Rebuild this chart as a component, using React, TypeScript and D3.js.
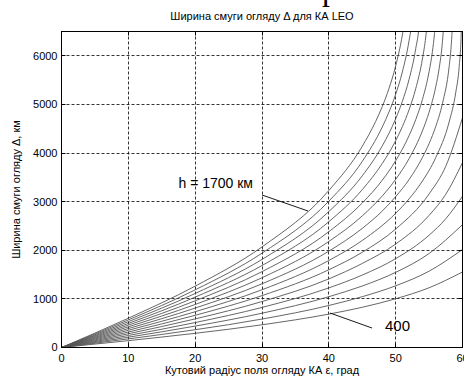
import { useMemo } from 'react'
import { scaleLinear, line, curveMonotoneX } from 'd3'

// Ширина смуги огляду для КА LEO, h = 400..1700 км з кроком 100 км.
// Точки [ε, Δ]; вище 6500 км крива обрізається рамкою.

const X_TICKS = [0, 10, 20, 30, 40, 50, 60]
const Y_TICKS = [0, 1000, 2000, 3000, 4000, 5000, 6000]

const H400: [number, number][] = [[0, 0], [10, 141], [20, 292], [30, 467], [40, 687], [45, 827], [50, 1003], [55, 1229], [60, 1553]]
const H500: [number, number][] = [[0, 0], [10, 177], [20, 366], [30, 585], [40, 864], [45, 1045], [50, 1269], [55, 1570], [60, 2016]]
const H600: [number, number][] = [[0, 0], [10, 212], [20, 440], [30, 705], [40, 1045], [45, 1265], [50, 1546], [55, 1933], [60, 2528]]
const H700: [number, number][] = [[0, 0], [10, 247], [20, 513], [30, 824], [40, 1226], [45, 1490], [50, 1827], [55, 2310], [57.5, 2649], [60, 3110]]
const H800: [number, number][] = [[0, 0], [10, 283], [20, 588], [30, 945], [40, 1411], [45, 1729], [50, 2128], [55, 2718], [57.5, 3152], [60, 3803]]
const H900: [number, number][] = [[0, 0], [10, 318], [20, 662], [30, 1067], [40, 1599], [45, 1958], [50, 2437], [55, 3158], [57.5, 3730], [60, 4728]]
const H1000: [number, number][] = [[0, 0], [10, 354], [20, 736], [30, 1188], [40, 1790], [45, 2201], [50, 2760], [52, 3056], [54, 3423], [56, 3907], [58, 4639], [59, 5253], [59.5, 5775], [59.8, 6437], [59.81, 6713]]
const H1100: [number, number][] = [[0, 0], [10, 389], [20, 811], [30, 1310], [40, 1982], [45, 2450], [48, 2808], [50, 3103], [52, 3453], [54, 3907], [55, 4194], [56, 4548], [57, 5019], [58, 5776], [58.3, 6188], [58.4, 6400], [58.45, 6546], [58.49, 7008]]
const H1200: [number, number][] = [[0, 0], [10, 425], [20, 885], [30, 1435], [40, 2181], [45, 2707], [48, 3118], [50, 3458], [52, 3884], [54, 4455], [55, 4841], [56, 5366], [56.5, 5735], [57, 6294], [57.1, 6466], [57.2, 6696], [57.3, 7272]]
const H1300: [number, number][] = [[0, 0], [10, 460], [20, 960], [30, 1560], [40, 2382], [45, 2972], [48, 3442], [50, 3841], [52, 4357], [53, 4686], [54, 5099], [55, 5672], [55.5, 6089], [55.8, 6445], [55.9, 6601], [56.15, 7527]]
const H1400: [number, number][] = [[0, 0], [10, 495], [20, 1036], [30, 1686], [40, 2587], [45, 3247], [48, 3786], [50, 4254], [51, 4543], [52, 4888], [53, 5324], [54, 5933], [54.5, 6389], [54.7, 6649], [55.07, 7768]]
const H1500: [number, number][] = [[0, 0], [10, 531], [20, 1111], [30, 1812], [40, 2796], [45, 3531], [48, 4148], [50, 4704], [51, 5063], [52, 5513], [53, 6146], [53.5, 6622], [54.04, 7997]]
const H1600: [number, number][] = [[0, 0], [10, 567], [20, 1186], [30, 1940], [40, 3010], [45, 3827], [48, 4537], [49, 4844], [50, 5208], [51, 5669], [52, 6309], [52.4, 6676], [53.06, 8215]]
const H1700: [number, number][] = [[0, 0], [10, 602], [20, 1262], [30, 2069], [40, 3229], [45, 4139], [47, 4648], [48, 4958], [49, 5328], [50, 5791], [51, 6428], [51.3, 6687], [52.13, 8422]]

const SERIES = [H400, H500, H600, H700, H800, H900, H1000, H1100, H1200, H1300, H1400, H1500, H1600, H1700]

const W = 464
const H = 383
const PLOT = { left: 61.5, right: 462.5, top: 31.5, bottom: 347.5 }
const FONT = '"Liberation Sans", Arial, sans-serif'
const TICK = 4

export default function App() {
  const x = useMemo(() => scaleLinear().domain([0, 60]).range([PLOT.left, PLOT.right]), [])
  const y = useMemo(() => scaleLinear().domain([0, 6500]).range([PLOT.bottom, PLOT.top]), [])
  const path = line<[number, number]>()
    .x((d) => x(d[0]))
    .y((d) => y(d[1]))
    .curve(curveMonotoneX)

  const crisp = (v: number) => Math.round(v - 0.5) + 0.5

  return (
    <svg
      width={W}
      height={H}
      viewBox={`0 0 ${W} ${H}`}
      style={{ position: 'absolute', left: 0, top: 0, background: '#fff' }}
      fontFamily={FONT}
    >
      <defs>
        <clipPath id="plot-clip">
          <rect x={PLOT.left} y={PLOT.top} width={PLOT.right - PLOT.left} height={PLOT.bottom - PLOT.top} />
        </clipPath>
      </defs>

      {/* обрізаний великий символ підпису над рисунком */}
      <text x={322} y={0} fontFamily='"Liberation Serif", "Times New Roman", serif' fontSize={32} fill="#000">
        р
      </text>

      <text x={(PLOT.left + PLOT.right) / 2} y={20} textAnchor="middle" fontSize={11} fill="#000">
        Ширина смуги огляду Δ для КА LEO
      </text>

      {/* сітка */}
      <g stroke="#000" strokeWidth={0.8} strokeDasharray="3,2">
        {X_TICKS.filter((t) => t > 0 && t < 60).map((t) => (
          <line key={`gx${t}`} x1={crisp(x(t))} x2={crisp(x(t))} y1={PLOT.top} y2={PLOT.bottom} />
        ))}
        {Y_TICKS.filter((t) => t > 0).map((t) => (
          <line key={`gy${t}`} x1={PLOT.left} x2={PLOT.right} y1={crisp(y(t))} y2={crisp(y(t))} />
        ))}
      </g>

      {/* криві */}
      <g clipPath="url(#plot-clip)" fill="none" stroke="#555" strokeWidth={0.9}>
        {SERIES.map((s, i) => (
          <path key={i} d={path(s) ?? ''} />
        ))}
      </g>

      {/* рамка і поділки */}
      <rect
        x={PLOT.left}
        y={PLOT.top}
        width={PLOT.right - PLOT.left}
        height={PLOT.bottom - PLOT.top}
        fill="none"
        stroke="#000"
        strokeWidth={1}
      />
      <g stroke="#000" strokeWidth={1}>
        {X_TICKS.map((t) => (
          <g key={`tx${t}`}>
            <line x1={crisp(x(t))} x2={crisp(x(t))} y1={PLOT.bottom} y2={PLOT.bottom - TICK} />
            <line x1={crisp(x(t))} x2={crisp(x(t))} y1={PLOT.top} y2={PLOT.top + TICK} />
          </g>
        ))}
        {Y_TICKS.map((t) => (
          <g key={`ty${t}`}>
            <line x1={PLOT.left} x2={PLOT.left + TICK} y1={crisp(y(t))} y2={crisp(y(t))} />
            <line x1={PLOT.right} x2={PLOT.right - TICK} y1={crisp(y(t))} y2={crisp(y(t))} />
          </g>
        ))}
      </g>

      <g fontSize={11} fill="#000">
        {X_TICKS.map((t) => (
          <text key={`lx${t}`} x={x(t)} y={PLOT.bottom + 14} textAnchor="middle">
            {t}
          </text>
        ))}
        {Y_TICKS.map((t) => (
          <text key={`ly${t}`} x={PLOT.left - 4} y={y(t)} dy="0.35em" textAnchor="end">
            {t}
          </text>
        ))}
      </g>

      <text x={(PLOT.left + PLOT.right) / 2} y={374} textAnchor="middle" fontSize={11} fill="#000">
        Кутовий радіус поля огляду КА ε, град
      </text>
      <text
        transform={`translate(20, ${(PLOT.top + PLOT.bottom) / 2}) rotate(-90)`}
        textAnchor="middle"
        fontSize={11}
        fill="#000"
      >
        Ширина смуги огляду Δ, км
      </text>

      {/* підписи кривих */}
      <text x={253} y={188} textAnchor="end" fontSize={14} fill="#000">
        h = 1700 км
      </text>
      <line x1={262} y1={195} x2={308} y2={211} stroke="#000" strokeWidth={0.9} />
      <text x={385} y={331} fontSize={15} fill="#000">
        400
      </text>
      <line x1={330} y1={313} x2={372} y2={328} stroke="#000" strokeWidth={0.9} />
    </svg>
  )
}
